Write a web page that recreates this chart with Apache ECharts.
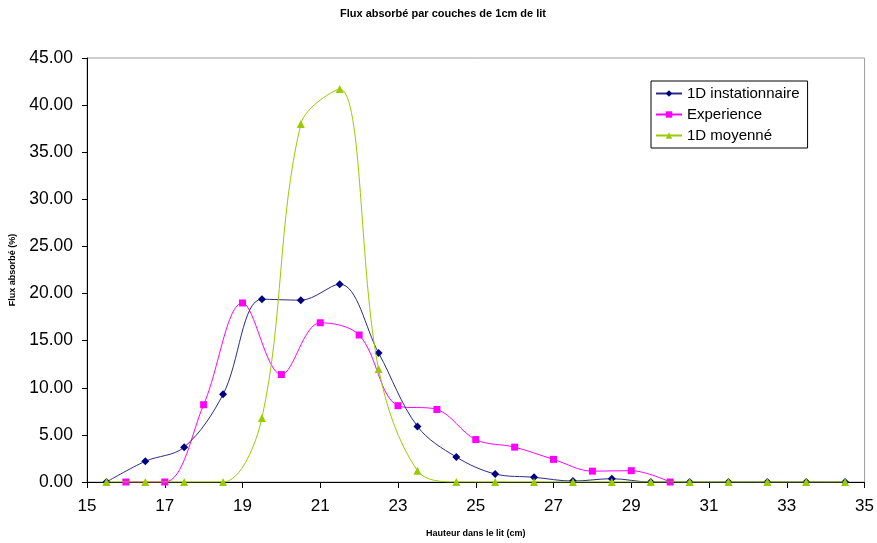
<!DOCTYPE html>
<html>
<head>
<meta charset="utf-8">
<script src="https://cdn.jsdelivr.net/npm/echarts@6/dist/echarts.min.js"></script>
<style>html,body{margin:0;padding:0;background:#fff}#c{width:877px;height:543px}</style>
</head>
<body>
<div id="c"></div>
<script>
const title = "Flux absorbé par couches de 1cm de lit";
const xName = "Hauteur dans le lit (cm)";
const yName = "Flux absorbé (%)";
const seriesNames = ["1D instationnaire", "Experience", "1D moyenné"];

const blueX = [15.5,16.5,17.5,18.5,19.5,20.5,21.5,22.5,23.5,24.5,25.5,26.5,27.5,28.5,29.5,30.5,31.5,32.5,33.5,34.5];
const blueY = [0,2.2,3.7,9.3,19.4,19.3,21.0,13.7,5.9,2.65,0.85,0.5,0.1,0.35,0,0,0,0,0,0];

const pinkX = [16,17,18,19,20,21,22,23,24,25,26,27,28,29,30];
const pinkY = [0,0,8.2,19.0,11.4,16.9,15.6,8.1,7.7,4.5,3.7,2.4,1.15,1.2,0];

const greenX = [15.5,16.5,17.5,18.5,19.5,20.5,21.5,22.5,23.5,24.5,25.5,26.5,27.5,28.5,29.5,30.5,31.5,32.5,33.5,34.5];
const greenY = [0,0,0,0,6.8,38.0,41.7,12.0,1.2,0,0,0,0,0,0,0,0,0,0,0];

const pair = (xs, ys) => xs.map((x, i) => [x, ys[i]]);
const font = "Liberation Sans, Arial, sans-serif";

const chart = echarts.init(document.getElementById('c'), null, {renderer: 'canvas'});
chart.setOption({
  animation: false,
  backgroundColor: '#fff',
  title: {
    text: title, left: 438, top: 3, textAlign: 'center',
    textStyle: {fontFamily: font, fontSize: 11, fontWeight: 'bold', color: '#000'}
  },
  grid: {left: 86, right: 10, top: 58, bottom: 60, show: true, borderColor: '#a0a0a0', borderWidth: 1, backgroundColor: 'transparent'},
  legend: {
    left: 651, top: 81, orient: 'vertical', itemGap: 6, padding: [5, 8, 5, 4],
    borderColor: '#000', borderWidth: 1, backgroundColor: '#fff',
    itemWidth: 26, itemHeight: 8,
    textStyle: {fontFamily: font, fontSize: 15, color: '#000'},
    data: seriesNames
  },
  xAxis: {
    type: 'value', min: 15, max: 35, interval: 2,
    name: xName, nameLocation: 'middle', nameGap: 47,
    nameTextStyle: {fontFamily: font, fontSize: 9, fontWeight: 'bold', color: '#000'},
    axisLine: {lineStyle: {color: '#000', width: 1}},
    axisTick: {show: true, inside: false, length: 6, lineStyle: {color: '#000'}},
    axisLabel: {fontFamily: font, fontSize: 17, color: '#000', margin: 16},
    splitLine: {show: false}
  },
  yAxis: {
    type: 'value', min: 0, max: 45, interval: 5,
    name: yName, nameLocation: 'middle', nameGap: 70, nameRotate: 90,
    nameTextStyle: {fontFamily: font, fontSize: 9, fontWeight: 'bold', color: '#000'},
    axisLine: {show: true, lineStyle: {color: '#000', width: 1}},
    axisTick: {show: true, inside: false, length: 5, lineStyle: {color: '#000'}},
    axisLabel: {fontFamily: font, fontSize: 17.5, color: '#000', margin: 14, formatter: v => v.toFixed(2)},
    splitLine: {show: false}
  },
  series: [
    {
      name: seriesNames[0], type: 'line', smooth: 0.35, data: pair(blueX, blueY),
      symbol: 'diamond', symbolSize: 8, z: 3,
      itemStyle: {color: '#000080'},
      lineStyle: {color: '#2a2a8c', width: 1}
    },
    {
      name: seriesNames[1], type: 'line', smooth: 0.35, data: pair(pinkX, pinkY),
      symbol: 'rect', symbolSize: 7, z: 2,
      itemStyle: {color: '#ff00ff'},
      lineStyle: {color: '#ff00ff', width: 1}
    },
    {
      name: seriesNames[2], type: 'line', smooth: 0.35, data: pair(greenX, greenY),
      symbol: 'triangle', symbolSize: 8, z: 4,
      itemStyle: {color: '#99cc00'},
      lineStyle: {color: '#99cc00', width: 1}
    }
  ]
});
</script>
</body>
</html>
